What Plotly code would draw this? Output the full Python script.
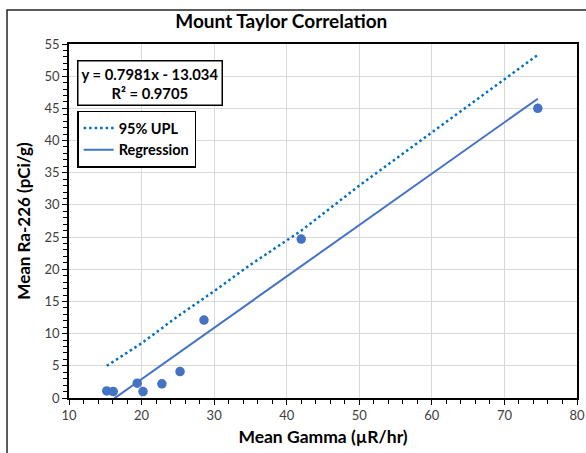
import plotly.graph_objects as go

# Data
gamma = [15.2, 16.1, 19.4, 20.2, 22.8, 25.3, 28.6, 42.0, 74.6]
ra226 = [1.1, 1.0, 2.3, 1.0, 2.2, 4.1, 12.1, 24.7, 45.0]

upl_x = [15.2, 20, 25, 30, 35, 42, 50, 60, 74.6]
upl_y = [5.0, 8.5, 12.7, 16.6, 20.7, 26.0, 33.0, 41.2, 53.3]

reg_x = [15.2, 74.6]
reg_y = [-0.9, 46.5]

equation = "y = 0.7981x - 13.034"
r2 = "R² = 0.9705"

FONT = "Lato"
BLUE = "#4472C4"
UPL_BLUE = "#0070C0"

fig = go.Figure()
fig.add_trace(go.Scatter(x=upl_x, y=upl_y, mode="lines", name="95% UPL",
                         line=dict(color=UPL_BLUE, width=2.5, dash="2.5px,3px")))
fig.add_trace(go.Scatter(x=reg_x, y=reg_y, mode="lines", name="Regression",
                         line=dict(color=BLUE, width=2)))
fig.add_trace(go.Scatter(x=gamma, y=ra226, mode="markers", showlegend=False,
                         marker=dict(color=BLUE, size=9.5)))

axis_common = dict(
    showline=True, linecolor="black", linewidth=1.5, mirror=True,
    showgrid=True, gridcolor="#D9D9D9", gridwidth=1,
    ticks="outside", ticklen=5, tickcolor="black", tickwidth=1,
    zeroline=False, automargin=False,
    tickfont=dict(family=FONT, size=13, color="#404040"),
)

fig.update_xaxes(range=[10, 80], dtick=10,
                 minor=dict(dtick=2, ticks="outside", ticklen=4, tickcolor="black", showgrid=False),
                 title=dict(text="Mean Gamma (µR/hr)", font=dict(family=FONT, size=17.5, color="black", weight="bold"),
                            standoff=8),
                 **axis_common)
fig.update_yaxes(range=[0, 55], dtick=5,
                 minor=dict(dtick=1, ticks="outside", ticklen=4, tickcolor="black", showgrid=False),
                 title=dict(text="Mean Ra-226 (pCi/g)", font=dict(family=FONT, size=17, color="black", weight="bold"),
                            standoff=10),
                 **axis_common)

fig.update_layout(
    width=586, height=453,
    margin=dict(l=69, r=9, t=44, b=55),
    paper_bgcolor="white", plot_bgcolor="white",
    title=dict(text="Mount Taylor Correlation", x=0.48, xanchor="center", y=0.953, yanchor="middle",
               font=dict(family=FONT, size=19, color="black", weight="bold")),
    legend=dict(x=0.016, y=0.812, xanchor="left", yanchor="top",
                bgcolor="white", bordercolor="black", borderwidth=1.5,
                font=dict(family=FONT, size=14.5, color="black", weight="bold"),
                itemwidth=30, tracegroupgap=0, entrywidth=88),
    showlegend=True,
)

fig.add_annotation(xref="paper", yref="paper", x=0.016, y=0.955, xanchor="left", yanchor="top",
                   text="<b>" + equation + "<br>" + r2 + "</b>", showarrow=False, align="center",
                   font=dict(family=FONT, size=14.8, color="black"),
                   bordercolor="black", borderwidth=1.5, borderpad=3, bgcolor="white")

# outer chart border
fig.add_shape(type="rect", xref="paper", yref="paper", x0=-0.122, y0=-0.3, x1=1.1, y1=1.096,
              line=dict(color="#262626", width=1.5), layer="above")

fig.write_html("out.html")
